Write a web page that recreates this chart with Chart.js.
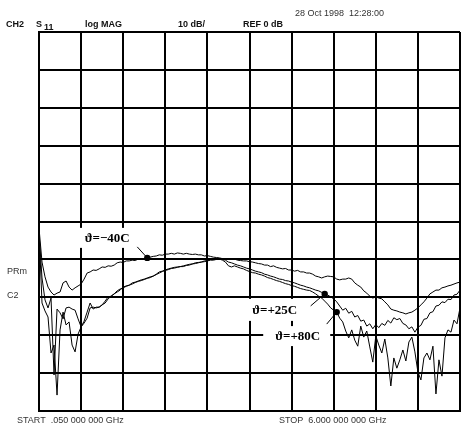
<!DOCTYPE html>
<html><head><meta charset="utf-8">
<script src="https://cdn.jsdelivr.net/npm/chart.js@4.4.1/dist/chart.umd.min.js"></script>
<style>html,body{margin:0;padding:0;background:#fff;}canvas{display:block;}</style>
</head><body>
<canvas id="c" width="461" height="427"></canvas>
<script>
// Sweep setup (network analyzer, CH2 S11 log MAG)
const START_GHZ = 0.05;
const STOP_GHZ = 6.0;
const SWEEP_POINTS = 141;
const REF_DB = 0;
const DB_PER_DIV = 10;
const DIVISIONS = 10;

// S11 magnitude in dB at each sweep point, one array per temperature
const s11Minus40 = [
 -51.7, -60.7, -64.6, -67.3, -68.6, -69.4, -68.9, -68.6, -66.2, -65.7,
 -67.3, -68.1, -67.5, -67.0, -66.5, -65.2, -63.6, -63.3, -62.8, -62.9,
 -62.5, -62.0, -62.1, -61.7, -61.8, -61.5, -60.9, -60.7, -60.8, -60.4,
 -60.4, -60.2, -60.3, -59.9, -59.9, -59.8, -59.6, -59.4, -59.2, -59.1,
 -58.8, -58.9, -58.6, -58.6, -58.4, -58.6, -58.3, -58.4, -58.6, -58.4,
 -58.6, -58.7, -58.6, -58.8, -58.8, -59.1, -59.0, -59.2, -59.4, -59.5,
 -59.6, -59.8, -59.9, -59.9, -60.0, -59.9, -60.2, -60.3, -60.4, -60.4,
 -60.6, -60.7, -60.9, -61.1, -61.2, -61.5, -61.5, -61.9, -61.7, -62.1,
 -62.3, -62.5, -62.4, -62.8, -62.8, -63.1, -62.9, -63.3, -63.3, -63.6,
 -63.6, -63.9, -64.4, -64.6, -64.9, -64.6, -64.4, -64.5, -64.6, -65.2,
 -65.4, -65.2, -65.2, -64.9, -65.2, -66.2, -66.8, -67.3, -68.3, -68.9,
 -69.7, -70.2, -69.9, -70.2, -70.4, -71.2, -72.0, -73.1, -73.4, -73.6,
 -73.9, -74.1, -74.4, -74.1, -73.9, -73.4, -72.8, -72.0, -71.2, -70.2,
 -69.1, -68.6, -68.1, -68.1, -67.5, -67.3, -67.0, -66.8, -66.5, -66.2,
 -66.0
];
const s11Plus25 = [
 -52.8, -64.9, -70.7, -72.8, -70.2, -90.5, -73.1, -74.1, -75.7, -72.8,
 -72.6, -73.1, -73.4, -75.7, -77.8, -76.3, -73.9, -71.5, -73.1, -72.6,
 -72.6, -72.0, -71.5, -70.4, -69.7, -69.1, -68.6, -68.1, -67.3, -67.0,
 -66.8, -66.2, -66.0, -65.7, -65.4, -65.2, -64.9, -64.6, -64.4, -63.9,
 -63.3, -63.1, -62.8, -62.5, -62.3, -62.1, -62.0, -61.9, -61.7, -61.5,
 -61.3, -61.2, -60.9, -60.8, -60.7, -60.6, -60.4, -60.2, -60.2, -60.0,
 -59.9, -60.0, -60.2, -60.7, -60.9, -61.2, -61.5, -61.7, -62.0, -62.3,
 -62.5, -62.8, -63.1, -63.3, -63.5, -63.9, -64.1, -64.4, -64.6, -64.9,
 -65.2, -65.3, -65.6, -65.7, -66.0, -66.2, -66.5, -66.8, -67.0, -67.3,
 -67.5, -67.8, -68.1, -68.3, -68.7, -69.1, -69.4, -69.9, -70.4, -71.2,
 -72.3, -73.4, -72.9, -74.2, -73.7, -75.2, -74.8, -76.3, -76.0, -77.6,
 -77.0, -78.3, -77.2, -78.0, -76.9, -77.4, -76.1, -76.8, -75.4, -75.9,
 -75.6, -76.9, -77.3, -78.3, -77.8, -79.2, -77.9, -77.4, -75.8, -75.6,
 -74.1, -73.8, -72.3, -72.1, -71.2, -71.4, -70.5, -70.6, -69.4, -69.2,
 -68.1
];
const s11Plus80 = [
 -52.2, -71.5, -73.6, -75.2, -84.7, -82.6, -95.8, -78.6, -73.9, -77.3,
 -76.5, -82.6, -84.4, -79.7, -77.8, -76.8, -75.5, -72.8, -72.6, -72.8,
 -72.6, -72.0, -71.0, -69.9, -69.7, -69.1, -68.3, -67.8, -67.5, -67.1,
 -66.8, -66.5, -66.1, -65.8, -65.6, -65.3, -65.0, -64.8, -64.4, -64.0,
 -63.6, -63.2, -62.9, -62.7, -62.4, -62.3, -62.1, -61.9, -61.9, -61.6,
 -61.5, -61.2, -61.1, -60.9, -60.7, -60.4, -60.3, -60.0, -59.9, -59.8,
 -59.9, -60.2, -60.7, -61.7, -62.0, -61.7, -62.0, -62.3, -62.5, -62.9,
 -63.2, -63.5, -63.6, -63.9, -64.1, -64.4, -64.8, -65.0, -65.3, -65.6,
 -65.8, -66.1, -66.4, -66.6, -66.9, -67.1, -67.4, -67.7, -67.9, -68.1,
 -68.2, -68.6, -69.1, -69.7, -70.2, -71.0, -71.8, -72.8, -73.4, -73.9,
 -75.5, -76.5, -78.9, -80.7, -78.6, -81.3, -82.9, -77.6, -80.5, -78.9,
 -83.1, -87.1, -80.2, -82.6, -84.7, -81.0, -86.0, -93.4, -86.0, -88.7,
 -86.5, -83.9, -86.8, -81.8, -80.5, -84.4, -89.7, -91.8, -86.0, -84.7,
 -86.5, -82.9, -95.5, -86.5, -90.8, -80.7, -78.6, -79.2, -76.0, -77.0,
 -72.8
];

const traceSeries = [s11Minus40, s11Plus25, s11Plus80];
const traceLabels = ['ϑ=−40C', 'ϑ=+25C', 'ϑ=+80C'];
const markerIndex = [36, 95, 99];

// Sweep frequencies of the instrument (linear sweep START..STOP)
const sweepGHz = Array.from({length: SWEEP_POINTS},
  (_, i) => START_GHZ + i * (STOP_GHZ - START_GHZ) / (SWEEP_POINTS - 1));

// Callout layout per trace: label box centre/size and leader start, relative to the marker
const callouts = [
  {bx: -41, by: -20, bw: 61, bh: 20, lx: -10, ly: -11},
  {bx: -51, by: 16, bw: 57, bh: 22, lx: -14, ly: 12},
  {bx: -40, by: 24, bw: 67, bh: 20, lx: -10, ly: 12}
];

const datasets = traceSeries.map((vals, k) => ({
  label: traceLabels[k],
  data: sweepGHz.map((f, i) => ({x: f, y: vals[i]})),
  borderColor: '#000',
  borderWidth: 1,
  tension: 0,
  pointRadius: ctx => ctx.dataIndex === markerIndex[k] ? 3.2 : 0,
  pointBackgroundColor: '#000',
  pointBorderWidth: 0,
  pointHoverRadius: 0
}));

const calloutPlugin = {
  id: 'callouts',
  beforeDatasetsDraw(chart) {
    const ctx = chart.ctx;
    ctx.save();
    ctx.fillStyle = '#fff';
    datasets.forEach((d, k) => {
      const p = chart.getDatasetMeta(k).data[markerIndex[k]];
      const c = callouts[k];
      ctx.fillRect(p.x + c.bx - c.bw / 2, p.y + c.by - c.bh / 2, c.bw, c.bh);
    });
    ctx.restore();
  },
  afterDatasetsDraw(chart) {
    const ctx = chart.ctx;
    ctx.save();
    ctx.fillStyle = '#000';
    ctx.strokeStyle = '#000';
    ctx.lineWidth = 1;
    ctx.font = 'bold 13px "Liberation Serif", "Times New Roman", serif';
    ctx.textAlign = 'center';
    ctx.textBaseline = 'middle';
    datasets.forEach((d, k) => {
      const p = chart.getDatasetMeta(k).data[markerIndex[k]];
      const c = callouts[k];
      ctx.beginPath();
      ctx.moveTo(p.x + c.lx, p.y + c.ly);
      ctx.lineTo(p.x, p.y);
      ctx.stroke();
      ctx.fillText(traceLabels[k], p.x + c.bx + 1, p.y + c.by + 1);
    });
    ctx.restore();
  },
  afterDraw(chart) {
    const ctx = chart.ctx;
    ctx.save();
    ctx.textBaseline = 'alphabetic';
    ctx.textAlign = 'left';
    ctx.fillStyle = '#111';
    ctx.font = 'bold 9px "Liberation Sans", Arial, sans-serif';
    ctx.fillText('CH2', 6, 27);
    ctx.fillText('S', 36, 27);
    ctx.fillText('11', 44, 30);
    ctx.fillText('log MAG', 85, 27);
    ctx.fillText('10 dB/', 178, 27);
    ctx.fillText('REF 0 dB', 243, 27);
    ctx.fillStyle = '#333';
    ctx.font = '9px "Liberation Sans", Arial, sans-serif';
    ctx.fillText('28 Oct 1998  12:28:00', 295, 16);
    ctx.fillText('PRm', 7, 274);
    ctx.fillText('C2', 7, 298);
    ctx.fillText('START  .050 000 000 GHz', 17, 423);
    ctx.fillText('STOP  6.000 000 000 GHz', 279, 423);
    ctx.restore();
  }
};

const gridStyle = {color: '#000', lineWidth: 2, drawTicks: false};
const borderStyle = {display: true, color: '#000', width: 2};

new Chart(document.getElementById('c'), {
  type: 'line',
  data: {datasets},
  options: {
    responsive: false,
    animation: false,
    devicePixelRatio: 1,
    layout: {padding: {left: 39, top: 32, right: 1, bottom: 16}},
    plugins: {legend: {display: false}, tooltip: {enabled: false}},
    scales: {
      x: {
        type: 'linear', min: START_GHZ, max: STOP_GHZ,
        afterBuildTicks: s => {
          s.ticks = Array.from({length: DIVISIONS + 1},
            (_, k) => ({value: START_GHZ + k * (STOP_GHZ - START_GHZ) / DIVISIONS}));
        },
        ticks: {display: false},
        grid: gridStyle,
        border: borderStyle
      },
      y: {
        type: 'linear', min: REF_DB - DB_PER_DIV * DIVISIONS, max: REF_DB,
        ticks: {display: false, stepSize: DB_PER_DIV},
        grid: gridStyle,
        border: borderStyle
      }
    }
  },
  plugins: [calloutPlugin]
});
</script>
</body></html>
